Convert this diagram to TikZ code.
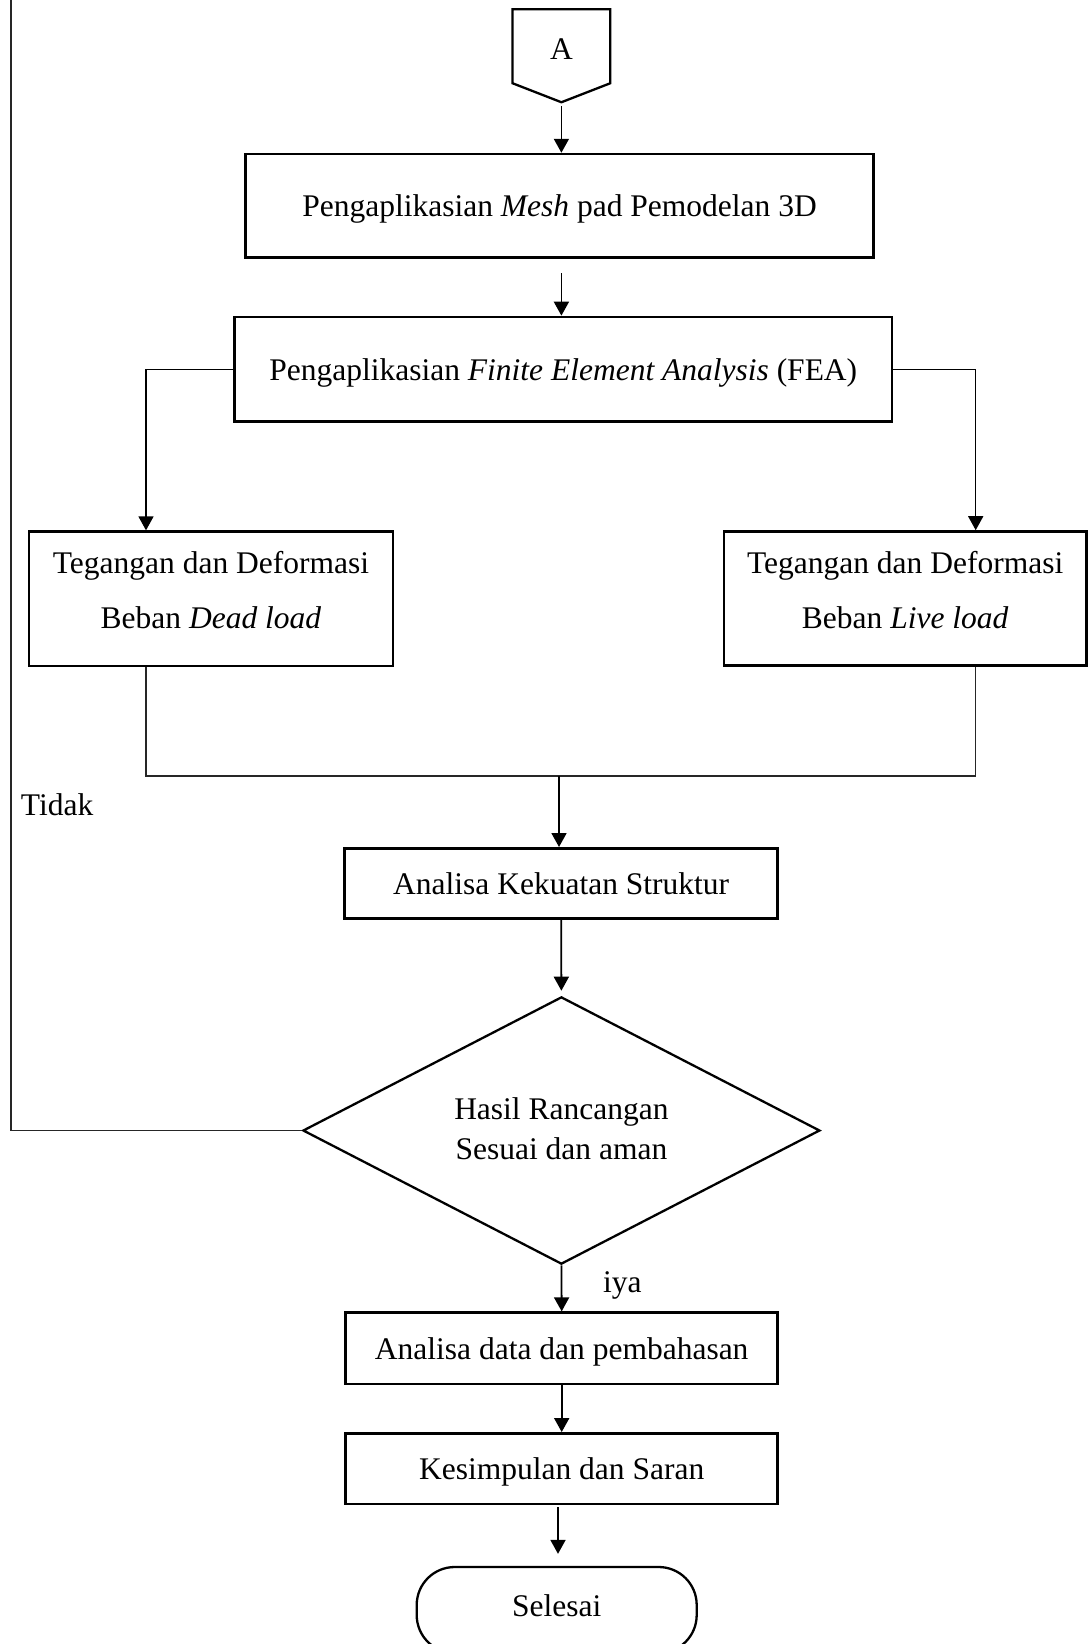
\documentclass[tikz,border=0pt]{standalone}
\usepackage{fontspec}
\setmainfont{Liberation Serif}
\usetikzlibrary{shapes.geometric,arrows.meta,calc}
\begin{document}
\begin{tikzpicture}[x=1pt,y=-1pt,
  font=\fontsize{31.5}{40}\selectfont,
  box/.style={draw, line width=2.6pt, inner sep=0pt, text height=21.5pt, text depth=0pt},
  boxtwo/.style={draw, line width=2.6pt, inner sep=0pt, align=center, font=\fontsize{31.5}{55}\selectfont},
  arr/.style={line width=1.8pt, -{Triangle[length=14pt,width=15pt]}},
  branch/.style={line width=1.5pt, -{Triangle[length=14pt,width=15pt]}},
  thinline/.style={line width=1.2pt, draw=black!85},
]
\useasboundingbox (0,0) rectangle (1088,1644);

% off-page connector A
\node[inner sep=0pt, minimum width=97.3pt, minimum height=73.7pt, text height=26pt, text depth=0pt] (A) at (561.4,46.2) {A};
\draw[line width=2.3pt] (A.north west) -- (A.north east) -- (A.south east) -- ($(A.south)+(0,19)$) coordinate (Atip) -- (A.south west) -- cycle;

% boxes
\node[box, minimum width=627.8pt, minimum height=103.7pt] (b1) at (559.6,205.9) {Pengaplikasian \textit{Mesh} pad Pemodelan 3D};
\node[box, minimum width=657.3pt, minimum height=104.7pt] (b2) at (563.3,369.3) {Pengaplikasian \textit{Finite Element Analysis} (FEA)};
\node[boxtwo, minimum width=364pt, minimum height=134.3pt] (b3) at (211,598.8) {Tegangan dan Deformasi\\Beban \textit{Dead load}\rule[-18pt]{0pt}{18pt}};
\node[boxtwo, minimum width=362.5pt, minimum height=134pt] (b4) at (905.2,598.5) {Tegangan dan Deformasi\\Beban \textit{Live load}\rule[-18pt]{0pt}{18pt}};
\node[box, minimum width=433pt, minimum height=70pt] (b5) at (561.2,883.3) {Analisa Kekuatan Struktur};
\node[draw, diamond, aspect=1.934, minimum width=517pt, minimum height=267.3pt, inner sep=0pt, line width=2.3pt, align=center, font=\fontsize{31.5}{40}\selectfont] (d) at (561.4,1130.5) {Hasil Rancangan\\Sesuai dan aman\rule[-3pt]{0pt}{3pt}};
\node[box, minimum width=432pt, minimum height=71.3pt] (b6) at (561.7,1348.3) {Analisa data dan pembahasan};
\node[box, minimum width=432pt, minimum height=70.7pt] (b7) at (561.7,1468.7) {Kesimpulan dan Saran};
\node[draw, line width=2.3pt, rounded corners=38pt, minimum width=280pt, minimum height=86pt, inner sep=0pt, text height=21.5pt, text depth=8pt] (t) at (556.7,1610) {Selesai};

% labels
\node[anchor=base west, inner sep=0pt] (tidak) at (20.7,815) {Tidak};
\node[anchor=base west, inner sep=0pt] (iya) at (603,1292) {iya};

% connectors
\draw[arr] ($(Atip)+(0,4)$) -- (Atip |- b1.north);
\draw[arr] ($(Atip |- b1.south)+(0,14)$) -- (Atip |- b2.north);
\draw[branch] (b2.west) -| ([xshift=-65pt]b3.north);
\draw[branch] (b2.east) -| ([xshift=70.5pt]b4.north);
\coordinate (j) at (559,776);
\draw[thinline] ([xshift=-65pt]b3.south) |- (j) -| ([xshift=70.5pt]b4.south);
\draw[arr] (j) -- (j |- b5.north);
\draw[arr, shorten >=5pt] (b5.south) -- (d.north);
\draw[arr] (d.south) -- (b6.north);
\draw[arr] (b6.south) -- (b7.north);
\draw[arr, shorten >=12pt, shorten <=2pt] ([xshift=-3.7pt]b7.south) -- ([xshift=1.3pt]t.north);
\coordinate (fbtop) at (11,-5);
\draw[thinline] (d.west) -| (fbtop);
\end{tikzpicture}
\end{document}
